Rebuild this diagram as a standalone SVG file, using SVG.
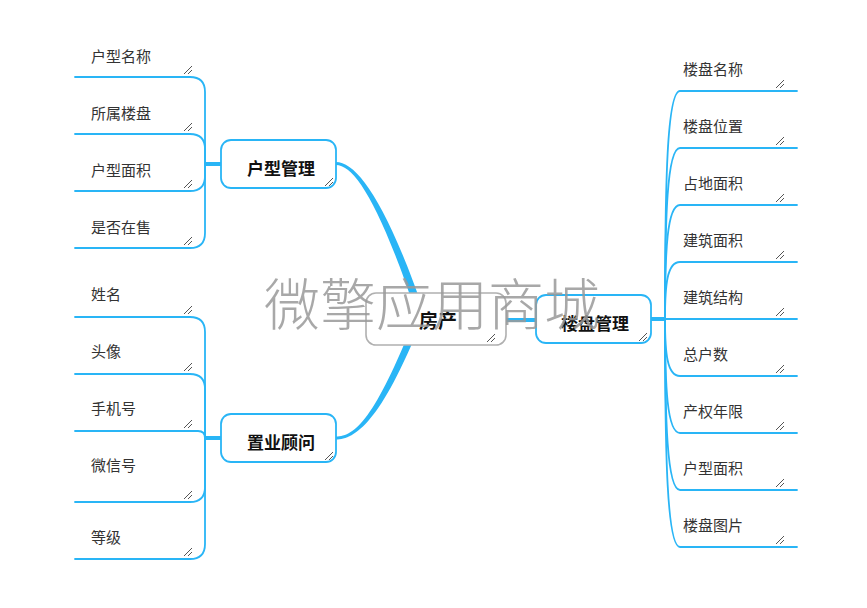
<svg xmlns="http://www.w3.org/2000/svg" xmlns:xlink="http://www.w3.org/1999/xlink" width="867" height="608" viewBox="0 0 867 608">
<defs>
<style>
.ln{fill:none;stroke:#29b5f6;stroke-width:1.8;stroke-linecap:round}
.thk{fill:none;stroke:#29b5f6;stroke-width:4}
.tap{fill:#29b5f6;stroke:none}
.node{fill:#fff;stroke:#29b5f6;stroke-width:1.8}
.root{fill:#fff;stroke:#b0b0b0;stroke-width:1.6}
.lbl{font-family:"Noto Sans CJK SC","Liberation Sans",sans-serif;font-size:15px;fill:#333}
.nl{font-family:"Noto Sans CJK SC","Liberation Sans",sans-serif;font-size:17px;font-weight:bold;fill:#111;text-anchor:middle}
.wm{font-family:"Noto Sans CJK SC","Liberation Sans",sans-serif;font-size:56px;font-weight:300;fill:#9a9a9a;opacity:0.85}
</style>
<path id="grip" d="M-8,0 L0,-8 M-4,0 L0,-4" fill="none" stroke="#555" stroke-width="1"/>
</defs>
<rect width="867" height="608" fill="#fff"/>

<g id="connectors">
  <path class="tap" d="M336,162 C356,162 385,199 423.5,310.3 L416,313 C379,202 354,165 336,165 Z"/>
  <path class="tap" d="M336,436.5 C355,436.5 375,418 414.7,318.7 L421.3,321.3 C381,422 355,439.5 336,439.5 Z"/>
  <path class="thk" d="M500,320 H537"/>
  <path class="thk" d="M205,164 H222"/>
  <path class="thk" d="M205,438 H222"/>
  <path class="thk" d="M650,319 H666"/>
  <path class="ln" d="M75,77 H190 Q205,77 205,92 V164"/>
  <path class="ln" d="M75,134 H190 Q205,134 205,149 V164"/>
  <path class="ln" d="M75,191 H190 Q205,191 205,176 V164"/>
  <path class="ln" d="M75,248 H190 Q205,248 205,233 V164"/>
  <path class="ln" d="M75,317 H190 Q205,317 205,332 V438"/>
  <path class="ln" d="M75,374 H190 Q205,374 205,389 V438"/>
  <path class="ln" d="M75,431 H198 Q205,431 205,438"/>
  <path class="ln" d="M75,502 H190 Q205,502 205,487 V438"/>
  <path class="ln" d="M75,559 H190 Q205,559 205,544 V438"/>
  <path class="ln" d="M797,91 H680 C667,91 665,182 665,319"/>
  <path class="ln" d="M797,148 H680 C667,148 665,216 665,319"/>
  <path class="ln" d="M797,205 H680 C667,205 665,251 665,319"/>
  <path class="ln" d="M797,262 H680 C667,262 665,285 665,319"/>
  <path class="ln" d="M797,319 H665"/>
  <path class="ln" d="M797,376 H680 C667,376 665,353 665,319"/>
  <path class="ln" d="M797,433 H680 C667,433 665,387 665,319"/>
  <path class="ln" d="M797,490 H680 C667,490 665,422 665,319"/>
  <path class="ln" d="M797,547 H680 C667,547 665,456 665,319"/>
</g>

<g id="root">
  <rect class="root" x="366" y="293" width="140" height="52" rx="10"/>
  <text class="nl" x="438" y="328" style="font-size:19px">房产</text>
  <use xlink:href="#grip" x="495" y="342"/>
</g>
<g id="n-loupan">
  <rect class="node" x="536" y="295" width="115" height="48" rx="10"/>
  <text class="nl" x="595" y="329.5">楼盘管理</text>
  <use xlink:href="#grip" x="647" y="341"/>
</g>
<g id="n-huxing">
  <rect class="node" x="221" y="140" width="115" height="48" rx="10"/>
  <text class="nl" x="281" y="174.5">户型管理</text>
  <use xlink:href="#grip" x="333" y="186"/>
</g>
<g id="n-zhiye">
  <rect class="node" x="221" y="414" width="115" height="48" rx="10"/>
  <text class="nl" x="281" y="448.5">置业顾问</text>
  <use xlink:href="#grip" x="333" y="460"/>
</g>

<g id="c-hx1"><text class="lbl" x="91" y="62.2">户型名称</text><use xlink:href="#grip" x="192" y="74"/></g>
<g id="c-hx2"><text class="lbl" x="91" y="119.2">所属楼盘</text><use xlink:href="#grip" x="192" y="131"/></g>
<g id="c-hx3"><text class="lbl" x="91" y="176.2">户型面积</text><use xlink:href="#grip" x="192" y="188"/></g>
<g id="c-hx4"><text class="lbl" x="91" y="233.2">是否在售</text><use xlink:href="#grip" x="192" y="245"/></g>

<g id="c-zy1"><text class="lbl" x="91" y="300.2">姓名</text><use xlink:href="#grip" x="192" y="314"/></g>
<g id="c-zy2"><text class="lbl" x="91" y="357.2">头像</text><use xlink:href="#grip" x="192" y="371"/></g>
<g id="c-zy3"><text class="lbl" x="91" y="414.2">手机号</text><use xlink:href="#grip" x="192" y="428"/></g>
<g id="c-zy4"><text class="lbl" x="91" y="471.2">微信号</text><use xlink:href="#grip" x="192" y="499"/></g>
<g id="c-zy5"><text class="lbl" x="91" y="543.2">等级</text><use xlink:href="#grip" x="192" y="556"/></g>

<g id="c-lp1"><text class="lbl" x="683" y="75.2">楼盘名称</text><use xlink:href="#grip" x="784" y="88"/></g>
<g id="c-lp2"><text class="lbl" x="683" y="132.2">楼盘位置</text><use xlink:href="#grip" x="784" y="145"/></g>
<g id="c-lp3"><text class="lbl" x="683" y="189.2">占地面积</text><use xlink:href="#grip" x="784" y="202"/></g>
<g id="c-lp4"><text class="lbl" x="683" y="246.2">建筑面积</text><use xlink:href="#grip" x="784" y="259"/></g>
<g id="c-lp5"><text class="lbl" x="683" y="303.2">建筑结构</text><use xlink:href="#grip" x="784" y="316"/></g>
<g id="c-lp6"><text class="lbl" x="683" y="360.2">总户数</text><use xlink:href="#grip" x="784" y="373"/></g>
<g id="c-lp7"><text class="lbl" x="683" y="417.2">产权年限</text><use xlink:href="#grip" x="784" y="430"/></g>
<g id="c-lp8"><text class="lbl" x="683" y="474.2">户型面积</text><use xlink:href="#grip" x="784" y="487"/></g>
<g id="c-lp9"><text class="lbl" x="683" y="531.2">楼盘图片</text><use xlink:href="#grip" x="784" y="544"/></g>

<text class="wm" x="264" y="325">微擎应用商城</text>
</svg>
